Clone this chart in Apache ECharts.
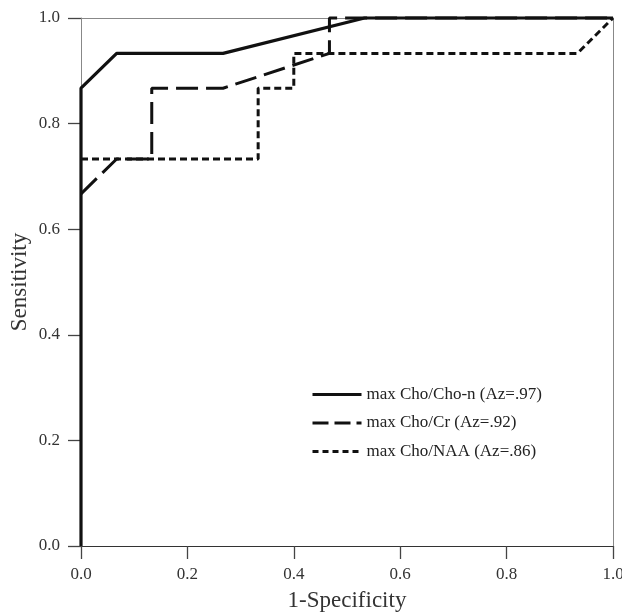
<!DOCTYPE html>
<html>
<head>
<meta charset="utf-8">
<script src="https://cdn.jsdelivr.net/npm/echarts@6/dist/echarts.min.js"></script>
<style>html,body{margin:0;padding:0;background:#fff}#c{width:622px;height:612px}</style>
</head>
<body>
<div id="c"></div>
<script>
const seriesNames = ['max Cho/Cho-n (Az=.97)', 'max Cho/Cr (Az=.92)', 'max Cho/NAA (Az=.86)'];
const choChoN = [[0,0],[0,0.867],[0.067,0.933],[0.267,0.933],[0.533,1],[1,1]];
const choCr = [[0,0.667],[0.067,0.733],[0.133,0.733],[0.133,0.867],[0.267,0.867],[0.467,0.933],[0.467,1],[1,1]];
const choNAA = [[0,0.733],[0.333,0.733],[0.333,0.867],[0.4,0.867],[0.4,0.933],[0.933,0.933],[1,1]];
const xTitle = '1-Specificity';
const yTitle = 'Sensitivity';

const font = 'Liberation Serif';
const dashCr = [22, 8];
const dashNAA = [7, 4];
const chart = echarts.init(document.getElementById('c'), null, {renderer:'canvas'});
const axisCommon = {
  min: 0, max: 1, interval: 0.2, z: 0,
  splitLine: {show:false},
  axisTick: {show:true, inside:false, length:13, lineStyle:{color:'#444', width:1.3}},
  axisLabel: {fontFamily:font, fontSize:17, color:'#333', formatter: v => v.toFixed(1)},
  nameTextStyle: {fontFamily:font, fontSize:23, color:'#333'},
  nameLocation: 'middle',
  nameMoveOverlap: false
};
const frameAxis = {
  min: 0, max: 1, interval: 0.2, z: 0, type: 'value',
  splitLine: {show:false}, axisTick: {show:false}, axisLabel: {show:false},
  axisLine: {show:true, onZero:false, lineStyle:{color:'#888', width:1}}
};
chart.setOption({
  animation: false,
  backgroundColor: '#fff',
  grid: {left:81, right:9, top:18, bottom:66, containLabel:false, outerBoundsMode:'none', show:false},
  legend: {
    data: [
      {name: seriesNames[0], lineStyle:{type:'solid', width:3, color:'#111'}},
      {name: seriesNames[1], lineStyle:{type:[16,6], width:3, color:'#111'}},
      {name: seriesNames[2], lineStyle:{type:[6,4], width:3, color:'#111'}}
    ],
    orient: 'vertical',
    left: 311, top: 386, padding: 0,
    itemWidth: 49, itemHeight: 14, itemGap: 11.5,
    itemStyle: {opacity: 0},
    textStyle: {fontFamily:font, fontSize:17, color:'#222'}
  },
  xAxis: [
    Object.assign({}, axisCommon, {
      type:'value', name: xTitle, nameGap: 43, position:'bottom',
      axisLine: {show:true, onZero:false, lineStyle:{color:'#333', width:1.2}},
      axisLabel: Object.assign({}, axisCommon.axisLabel, {margin:20})
    }),
    Object.assign({}, frameAxis, {position:'top'})
  ],
  yAxis: [
    Object.assign({}, axisCommon, {
      type:'value', name: yTitle, nameGap: 50, position:'left',
      axisLine: {show:true, onZero:false, lineStyle:{color:'#888', width:1}},
      axisLabel: Object.assign({}, axisCommon.axisLabel, {margin:21})
    }),
    Object.assign({}, frameAxis, {position:'right'})
  ],
  series: [
    {name: seriesNames[2], type:'line', data: choNAA, symbol:'none', showSymbol:false, clip:false, z:10,
     lineStyle:{color:'#111', width:3, type:dashNAA}, itemStyle:{color:'#111'}},
    {name: seriesNames[1], type:'line', data: choCr, symbol:'none', showSymbol:false, clip:false, z:11,
     lineStyle:{color:'#111', width:3, type:dashCr}, itemStyle:{color:'#111'}},
    {name: seriesNames[0], type:'line', data: choChoN, symbol:'none', showSymbol:false, clip:false, z:12,
     lineStyle:{color:'#111', width:3.2, type:'solid'}, itemStyle:{color:'#111'}}
  ]
});
</script>
</body>
</html>
